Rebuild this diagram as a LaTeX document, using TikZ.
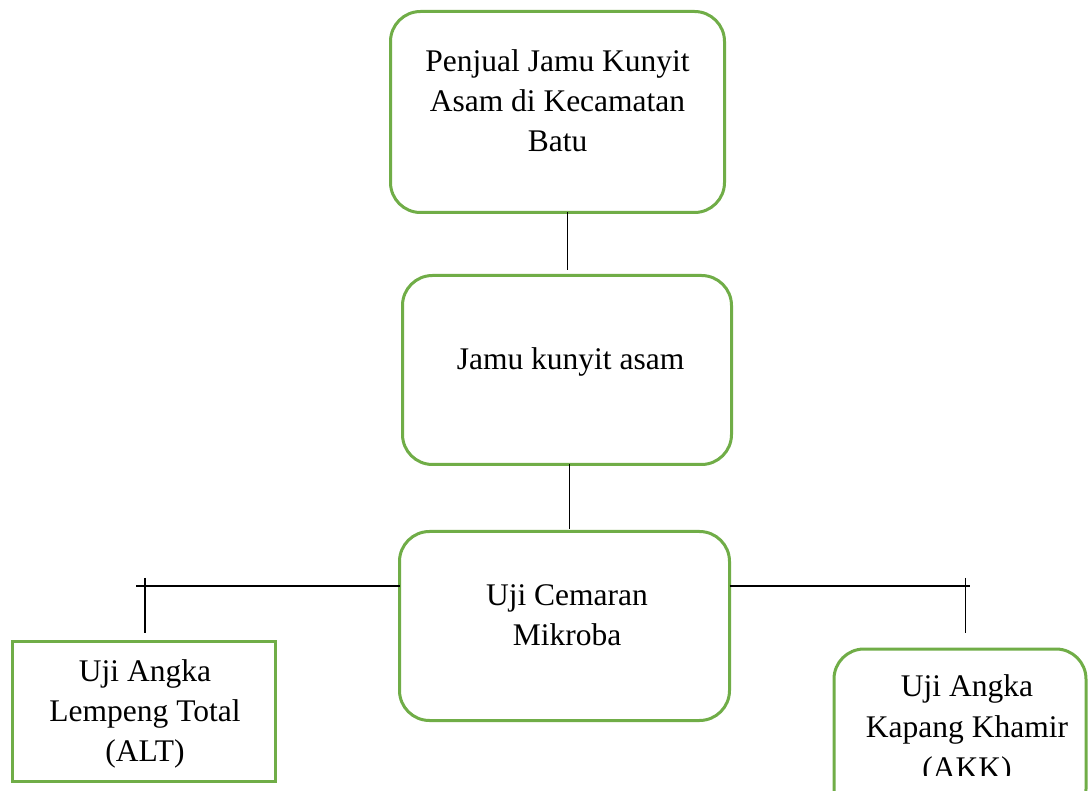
\documentclass[tikz,border=0pt]{standalone}
\usepackage{fontspec}
\setmainfont{Liberation Serif}
\definecolor{boxgreen}{HTML}{70AD47}
\begin{document}
\begin{tikzpicture}[x=1pt,y=-1pt,
  rbox/.style={draw=boxgreen,line width=3pt,rounded corners=30pt,inner sep=0pt,outer sep=0pt},
  sqbox/.style={draw=boxgreen,line width=3pt,inner sep=0pt,outer sep=0pt},
  lbl/.style={align=center,font=\fontsize{31.5}{40}\selectfont,inner sep=0pt,anchor=base},
  link/.style={draw=black,line width=1.3pt}]
\useasboundingbox (0,0) rectangle (1088,791);
\fill[white] (0,0) rectangle (1088,791);
% boxes
\node[rbox, minimum width=334pt, minimum height=201pt] (b1) at (557.5,112) {};
\node[rbox, minimum width=329pt, minimum height=189pt] (b2) at (567,370) {};
\node[rbox, minimum width=330pt, minimum height=189pt] (b3) at (564.5,626) {};
\node[sqbox, minimum width=263pt, minimum height=140pt] (alt) at (144,711.5) {};
\node[rbox, minimum width=252pt, minimum height=170pt] (akk) at (960,734) {};
% texts (base anchor = baseline of last line)
\node[lbl] (t1) at (557.5,152) {Penjual Jamu Kunyit\\Asam di Kecamatan\\Batu};
\node[lbl] (t2) at (570.5,370) {Jamu kunyit asam};
\node[lbl] (t3) at (567,645) {Uji Cemaran\\Mikroba};
\node[lbl] (t4) at (145,761) {Uji Angka\\Lempeng Total\\(ALT)};
\begin{scope}
\clip (840,650) rectangle (1085,775);
\node[lbl, font=\fontsize{31.5}{41}\selectfont] (t5) at (967,778) {Uji Angka\\Kapang Khamir\\(AKK)};
\end{scope}
% connectors
\coordinate (c1) at (567.5,270);
\draw[link] (b1.south -| c1) -- (c1);
\coordinate (c2) at (569.5,529);
\draw[link] (b2.south -| c2) -- (c2);
\coordinate (lh) at (136,586);
\coordinate (lt) at (145,578);
\coordinate (lb) at (145,633);
\coordinate (rh) at (970,586);
\coordinate (rt) at (965.5,578);
\coordinate (rb) at (965.5,633);
\draw[link] (lh) -- (b3.west |- lh);
\draw[link] (lt) -- (lb);
\draw[link] (b3.east |- rh) -- (rh);
\draw[link] (rt) -- (rb);
\end{tikzpicture}
\end{document}
